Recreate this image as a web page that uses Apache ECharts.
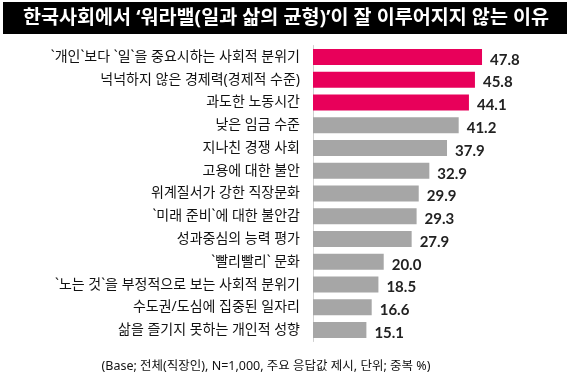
<!DOCTYPE html>
<html><head><meta charset="utf-8">
<script src="https://cdn.jsdelivr.net/npm/echarts@6/dist/echarts.min.js"></script>
<style>html,body{margin:0;padding:0;background:#fff}#c{width:571px;height:378px}</style>
</head><body><div id="c"></div>
<script>
const titleText = "한국사회에서 ‘워라밸(일과 삶의 균형)’이 잘 이루어지지 않는 이유";
const footnote = "(Base; 전체(직장인), N=1,000, 주요 응답값 제시, 단위; 중복 %)";
const categories = [
  "`개인`보다 `일`을 중요시하는 사회적 분위기",
  "넉넉하지 않은 경제력(경제적 수준)",
  "과도한 노동시간",
  "낮은 임금 수준",
  "지나친 경쟁 사회",
  "고용에 대한 불안",
  "위계질서가 강한 직장문화",
  "`미래 준비`에 대한 불안감",
  "성과중심의 능력 평가",
  "`빨리빨리` 문화",
  "`노는 것`을 부정적으로 보는 사회적 분위기",
  "수도권/도심에 집중된 일자리",
  "삶을 즐기지 못하는 개인적 성향"
];
const values = [47.8, 45.8, 44.1, 41.2, 37.9, 32.9, 29.9, 29.3, 27.9, 20.0, 18.5, 16.6, 15.1];
const highlightCount = 3;

const KR = '"Noto Sans", "Noto Sans CJK KR", sans-serif';
const chart = echarts.init(document.getElementById('c'), null, {renderer: 'canvas'});
const cats = categories.slice().reverse();
const vals = values.slice().reverse();
const n = vals.length;
chart.setOption({
  animation: false,
  grid: {left: 313, top: 45.5, height: 296, width: 176.8, containLabel: false},
  xAxis: {type: 'value', min: 0, max: 50, show: false},
  yAxis: {
    type: 'category', data: cats,
    axisLine: {show: true, lineStyle: {color: '#cfcfcf', width: 1}},
    axisTick: {show: false},
    axisLabel: {color: '#111', fontSize: 14, fontFamily: KR, margin: 13}
  },
  series: [{
    type: 'bar', barWidth: 16,
    data: vals.map((v, i) => ({
      value: v,
      itemStyle: {color: (n - 1 - i) < highlightCount ? '#E8005A' : '#A6A6A6'}
    })),
    label: {
      show: true, position: 'right', distance: 8,
      formatter: p => p.value.toFixed(1),
      color: '#222', fontSize: 15, fontWeight: 'bold',
      fontFamily: 'Lato, "Noto Sans", sans-serif', offset: [0, 3]
    }
  }],
  graphic: [
    {type: 'rect', shape: {x: 3, y: 2, width: 564, height: 32}, style: {fill: '#000'}, z: 10},
    {type: 'text', x: 286, y: 18, z: 11, style: {
      text: titleText, fill: '#fff', font: 'bold 19.6px ' + KR,
      textAlign: 'center', textVerticalAlign: 'middle'}},
    {type: 'text', x: 266, y: 366, style: {
      text: footnote, fill: '#111', font: '12.5px ' + KR,
      textAlign: 'center', textVerticalAlign: 'middle'}}
  ]
});
</script></body></html>
